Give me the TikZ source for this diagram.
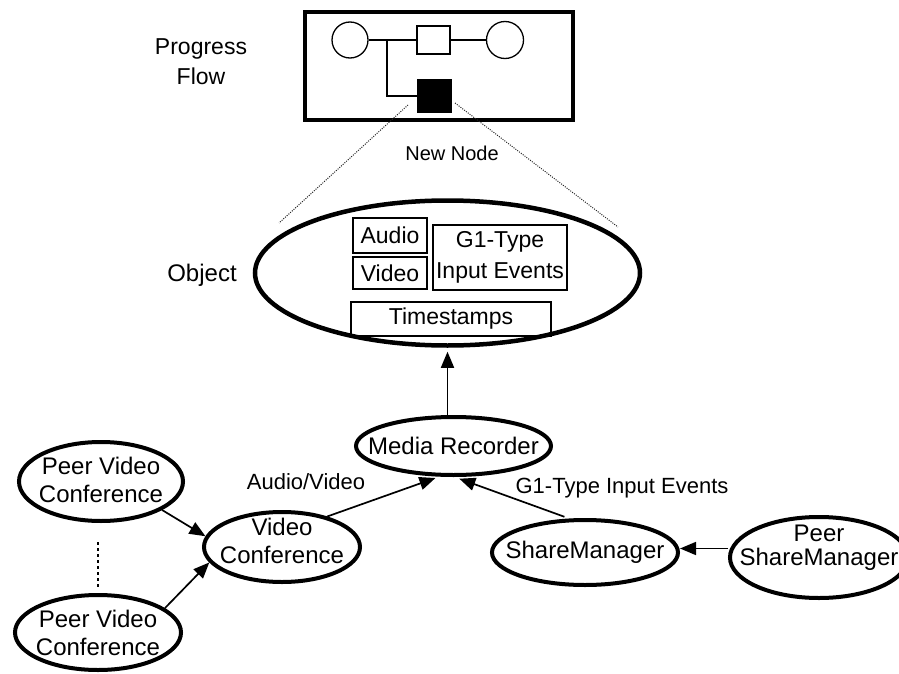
\documentclass[tikz,border=0pt]{standalone}
\usepackage{fontspec}
\setmainfont{Liberation Sans}
\usetikzlibrary{shapes.geometric,arrows.meta}
\begin{document}
\begin{tikzpicture}[x=1pt,y=-1pt,
  ell/.style={ellipse, draw, line width=4pt, inner sep=0pt},
  etext/.style={align=center, inner sep=0pt, font=\fontsize{24}{28}\selectfont},
  tbox/.style={rectangle, draw, line width=1.5pt, inner sep=0pt, align=center, font=\fontsize{23}{31}\selectfont},
  lbl/.style={inner sep=0pt, align=center},
  arr/.style={line width=1.7pt, -{Triangle[length=16pt,width=13pt]}},
  thinline/.style={line width=1.3pt},
  zoomdots/.style={line width=1pt, dash pattern=on 1pt off 1.3pt, black!85},
  vdots/.style={line width=2pt, dash pattern=on 2.5pt off 3.5pt}
]
\useasboundingbox (0,0) rectangle (899,674);

% progress flow box
\node[draw, line width=4pt, minimum width=268pt, minimum height=108pt, inner sep=0pt] (flow) at (439,66) {};
\node[circle, draw, thinline, minimum size=36pt, inner sep=0pt] (c1) at (350,40) {};
\node[rectangle, draw, thinline, minimum width=33pt, minimum height=28pt, inner sep=0pt] (sq) at (433.5,40) {};
\node[circle, draw, thinline, minimum size=37pt, inner sep=0pt] (c2) at (505,40) {};
\node[rectangle, fill=black, minimum width=35pt, minimum height=34pt, inner sep=0pt] (nn) at (434.5,96) {};
\coordinate (br) at (387,40);
\draw[thinline] (c1) -- (sq);
\draw[thinline] (sq) -- (c2);
\draw[thinline] (br) |- (nn.west);

\node[lbl, font=\fontsize{23}{30}\selectfont] (pf) at (201,62) {Progress\\Flow};
\node[lbl, font=\fontsize{20}{24}\selectfont] (nnl) at (452,153) {New Node};

% zoom lines
\coordinate (dls) at (408,105);
\coordinate (dle) at (279,223);
\coordinate (drs) at (455,103);
\coordinate (dre) at (618,227);
\draw[zoomdots] (dls) -- (dle);
\draw[zoomdots] (drs) -- (dre);

% object
\node[lbl, font=\fontsize{24}{28}\selectfont] (objl) at (202,275) {Object};
\node[ell, line width=4.5pt, minimum width=385pt, minimum height=145pt] (obj) at (447.5,273) {};
\node[tbox, minimum width=74pt, minimum height=35pt] (audio) at (390,235.5) {Audio};
\node[tbox, minimum width=74pt, minimum height=32pt] (video) at (390,273) {Video};
\node[tbox, minimum width=134pt, minimum height=65pt] (g1) at (500,257.5) {G1-Type\\Input Events};
\node[tbox, minimum width=200pt, minimum height=34pt] (ts) at (451,319) {Timestamps};

% lower graph
\node[ell, minimum width=195pt, minimum height=58pt, label={[etext]center:{Media Recorder}}] (mr) at (453.5,446) {};
\node[ell, minimum width=164pt, minimum height=79pt, label={[etext, yshift=2pt]center:{Peer Video\\Conference}}] (p1) at (101,481.5) {};
\node[ell, minimum width=166pt, minimum height=75pt, label={[etext]center:{Peer Video\\Conference}}] (p2) at (98,632.5) {};
\node[ell, minimum width=156pt, minimum height=70pt, label={[etext, yshift=6pt]center:{Video\\Conference}}] (vc) at (282,547) {};
\node[ell, minimum width=186pt, minimum height=65pt, label={[etext]center:{ShareManager}}] (sm) at (585,552.5) {};
\node[ell, minimum width=178pt, minimum height=81pt, label={[etext, yshift=10pt]center:{Peer\\[-4pt]ShareManager}}] (psm) at (819,557.5) {};

\draw[arr, shorten >=4pt] (mr.north -| obj.south) -- (obj.south);
\draw[arr] (p1.-25) -- (vc.172);
\draw[arr] (p2.20) -- (vc.192);
\draw[vdots] ([yshift=51pt]p2.north) -- ([yshift=6pt]p2.north);
\draw[arr, shorten >=4pt] (vc.34) -- (mr.245);
\draw[arr, shorten <=5pt, shorten >=5pt] (sm.115) -- (mr.-88);
\draw[arr] ([yshift=4pt]psm.west |- sm.east) -- ([yshift=4pt]sm.east);

\node[lbl, font=\fontsize{22}{26}\selectfont] (avl) at (306,482) {Audio/Video};
\node[lbl, font=\fontsize{22}{26}\selectfont] (g1l) at (622,488) {G1-Type Input Events};
\end{tikzpicture}
\end{document}
